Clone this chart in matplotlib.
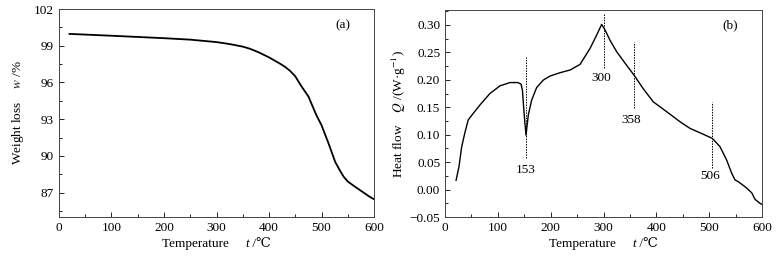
import matplotlib
matplotlib.use("Agg")
import matplotlib.pyplot as plt
from matplotlib.ticker import MultipleLocator, FuncFormatter
from matplotlib.offsetbox import TextArea, HPacker, AnchoredOffsetbox

plt.rcParams['font.family'] = ['Liberation Serif', 'DejaVu Serif']
plt.rcParams['mathtext.fontset'] = 'stix'
plt.rcParams['font.size'] = 9

# --- TGA (a) ---
tga_t = [20, 100, 200, 250, 300, 325, 350, 364, 380, 400, 420, 430, 440, 450,
         460, 475, 490, 500, 513, 526, 535, 542, 550, 568, 580, 590, 600]
tga_w = [99.97, 99.82, 99.62, 99.5, 99.3, 99.14, 98.93, 98.75, 98.47, 98.05,
         97.56, 97.29, 96.95, 96.5, 95.8, 94.85, 93.34, 92.5, 91.05, 89.5,
         88.8, 88.3, 87.9, 87.35, 87.0, 86.7, 86.45]

# --- DSC (b) ---
dsc_t = [21, 26.5, 31.6, 38, 44, 53.6, 66, 85, 104, 123, 138, 144, 146.5,
         149.7, 153.3, 157.7, 164, 173.5, 186, 199, 218, 237, 255.5, 274.4,
         287, 296.5, 303, 312.3, 325, 341, 357.7, 375, 394, 419.6, 444.8,
         463.7, 482.6, 506, 520.5, 533, 542.6, 549, 555, 567.8, 580.4, 586.7,
         596, 600]
dsc_q = [0.017, 0.042, 0.078, 0.105, 0.127, 0.139, 0.154, 0.175, 0.189, 0.195,
         0.195, 0.192, 0.181, 0.139, 0.099, 0.136, 0.163, 0.186, 0.1995, 0.207,
         0.213, 0.218, 0.228, 0.257, 0.2815, 0.301, 0.2906, 0.272, 0.251,
         0.230, 0.2086, 0.184, 0.160, 0.1418, 0.1236, 0.1115, 0.1035, 0.0933,
         0.078, 0.0538, 0.0296, 0.0174, 0.0144, 0.0052, -0.0058, -0.0178,
         -0.025, -0.027]

peak_t = [153, 300, 358, 506]
peak_lo = [0.057, 0.221, 0.148, 0.039]
peak_hi = [0.242, 0.320, 0.269, 0.160]
peak_lbl = ["153", "300", "358", "506"]
lbl_t = [153, 295, 353, 502]
lbl_q = [0.036, 0.203, 0.127, 0.024]

fig = plt.figure(figsize=(7.8, 2.59), dpi=100)
ax1 = fig.add_axes([0.0756, 0.162, 0.404, 0.803])
ax2 = fig.add_axes([0.5705, 0.162, 0.4065, 0.799])


def xlabel_rich(ax):
    # "Temperature    t /℃" with italic t; plain text keeps font fallback for ℃
    fs = 9.5
    parts = [TextArea("Temperature     ", textprops=dict(fontsize=fs)),
             TextArea("t", textprops=dict(fontsize=fs, style='italic')),
             TextArea(" /\u2103", textprops=dict(fontsize=fs))]
    box = HPacker(children=parts, align="baseline", pad=0, sep=0)
    anc = AnchoredOffsetbox(loc='center', child=box, frameon=False,
                            bbox_to_anchor=(0.5, -0.13),
                            bbox_transform=ax.transAxes, borderpad=0, pad=0)
    ax.add_artist(anc)


def style(ax):
    ax.tick_params(direction='in', which='both', top=False, right=False,
                   labelsize=9.5)
    ax.tick_params(which='major', length=3.5, width=0.6)
    ax.tick_params(which='minor', length=2, width=0.6)
    for s in ax.spines.values():
        s.set_linewidth(0.7)
        s.set_color('#444444')
    ax.set_xlim(0, 600)
    ax.xaxis.set_major_locator(MultipleLocator(100))
    ax.xaxis.set_minor_locator(MultipleLocator(50))
    xlabel_rich(ax)


ax1.plot(tga_t, tga_w, color='black', linewidth=1.3)
style(ax1)
ax1.set_ylim(85, 102)
ax1.yaxis.set_major_locator(MultipleLocator(3))
ax1.yaxis.set_minor_locator(MultipleLocator(1.5))
ax1.set_ylabel("Weight loss    $w$ /%", fontsize=9.5, labelpad=6)
ax1.text(0.90, 0.923, "(a)", transform=ax1.transAxes, ha='center',
         va='center', fontsize=9.5)

ax2.plot(dsc_t, dsc_q, color='black', linewidth=1.0)
for t, lo, hi, lb, lt, lq in zip(peak_t, peak_lo, peak_hi, peak_lbl, lbl_t, lbl_q):
    ax2.plot([t, t], [lo, hi], color='black', linestyle=(0, (1.5, 1.2)),
             linewidth=0.7)
    ax2.text(lt, lq, lb, ha='center', va='center', fontsize=9.5)
style(ax2)
ax2.set_ylim(-0.05, 0.327)
ax2.yaxis.set_major_locator(MultipleLocator(0.05))
ax2.yaxis.set_minor_locator(MultipleLocator(0.025))
ax2.yaxis.set_major_formatter(FuncFormatter(
    lambda v, p: f"{v:.2f}".replace("-", "\u2212")))
ax2.set_ylabel("Heat flow    $Q$ /(W\u00b7g$^{-1}$)", fontsize=9.5, labelpad=1)
ax2.text(0.90, 0.928, "(b)", transform=ax2.transAxes, ha='center',
         va='center', fontsize=9.5)

fig.savefig("out.png", dpi=100)
